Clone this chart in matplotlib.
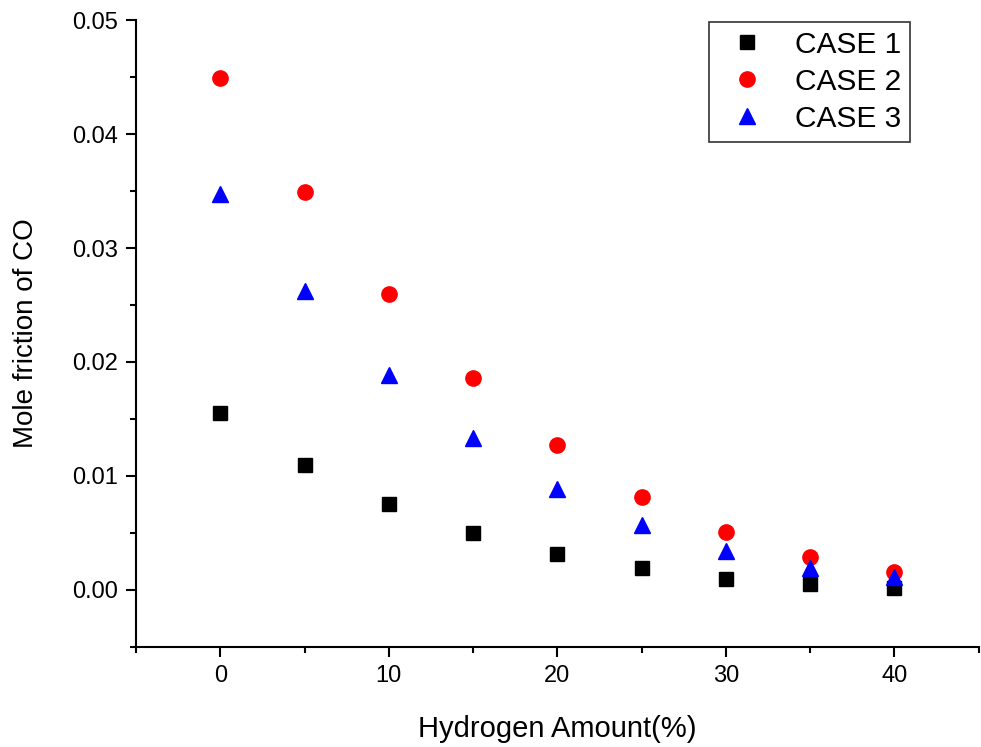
import numpy as np
import matplotlib
matplotlib.use('Agg')
import matplotlib.pyplot as plt
from matplotlib.ticker import MultipleLocator

plt.rcParams['font.family'] = ['Liberation Sans', 'DejaVu Sans']

hydrogen = [0, 5, 10, 15, 20, 25, 30, 35, 40]
case1 = [0.0155, 0.0110, 0.0075, 0.0050, 0.0032, 0.0019, 0.0010, 0.0005, 0.0002]
case2 = [0.0449, 0.0349, 0.0260, 0.0186, 0.0127, 0.0082, 0.0051, 0.0029, 0.0016]
case3 = [0.0347, 0.0262, 0.0189, 0.0133, 0.0089, 0.0057, 0.0034, 0.0019, 0.0011]

fig = plt.figure(figsize=(9.81, 7.47), dpi=100)
ax = fig.add_axes([0.1386, 0.1339, 0.859, 0.8393])

ax.plot(hydrogen, case1, 's', color='black', markersize=10, label='CASE 1')
ax.plot(hydrogen, case2, 'o', color='red', markersize=11, label='CASE 2')
ax.plot(hydrogen, case3, '^', color='blue', markersize=12, label='CASE 3')

ax.set_xlim(-5, 45)
ax.set_ylim(-0.005, 0.05)
ax.xaxis.set_major_locator(MultipleLocator(10))
ax.xaxis.set_minor_locator(MultipleLocator(5))
ax.yaxis.set_major_locator(MultipleLocator(0.01))
ax.yaxis.set_minor_locator(MultipleLocator(0.005))
ax.yaxis.set_major_formatter(matplotlib.ticker.FormatStrFormatter('%.2f'))

for side in ['top', 'right']:
    ax.spines[side].set_visible(False)
for side in ['left', 'bottom']:
    ax.spines[side].set_linewidth(1.5)
ax.tick_params(which='major', direction='out', length=7, width=1.5, labelsize=17, pad=6)
ax.tick_params(which='minor', direction='out', length=4, width=1.5)

ax.set_xlabel('Hydrogen Amount(%)', fontsize=21, labelpad=20)
ax.set_ylabel('Mole friction of CO', fontsize=20, labelpad=24)

leg = ax.legend(loc='upper right', bbox_to_anchor=(0.919, 0.997), borderaxespad=0,
                fontsize=21.5, fancybox=False, edgecolor='#333333', framealpha=1,
                handletextpad=0.6, borderpad=0.3, labelspacing=0.3, handlelength=2.0)
leg.get_frame().set_linewidth(1.2)

fig.savefig('out.png', dpi=100)
